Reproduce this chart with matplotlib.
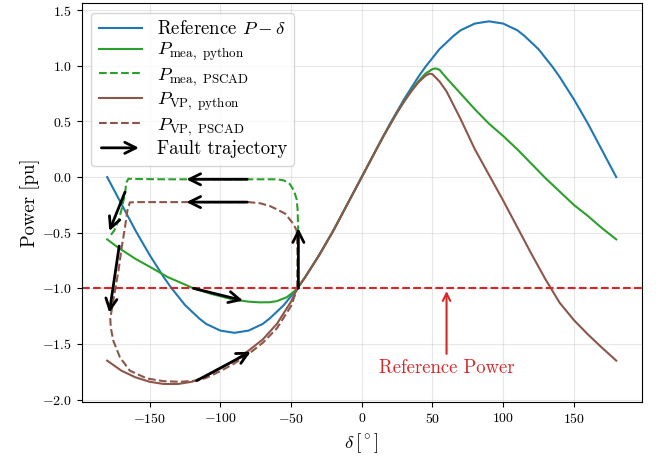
import numpy as np
import matplotlib
matplotlib.use('Agg')
import matplotlib.pyplot as plt
from matplotlib.patches import FancyArrowPatch
from matplotlib.legend_handler import HandlerPatch

plt.rcParams['font.family'] = 'serif'
plt.rcParams['font.serif'] = ['cmr10']
plt.rcParams['mathtext.fontset'] = 'cm'
plt.rcParams['axes.formatter.use_mathtext'] = True

# Reference P-delta curve (every 5 deg)
delta_ref = list(range(-180, 181, 5))
p_ref = [0.00, -0.12, -0.24, -0.36, -0.48, -0.59, -0.70, -0.80, -0.90, -0.99, -1.07, -1.15,
         -1.21, -1.27, -1.32, -1.35, -1.38, -1.39, -1.40, -1.39, -1.38, -1.35, -1.32, -1.27,
         -1.21, -1.15, -1.07, -0.99, -0.90, -0.80, -0.70, -0.59, -0.48, -0.36, -0.24, -0.12,
         0.00, 0.12, 0.24, 0.36, 0.48, 0.59, 0.70, 0.80, 0.90, 0.99, 1.07, 1.15, 1.21, 1.27,
         1.32, 1.35, 1.38, 1.39, 1.40, 1.39, 1.38, 1.35, 1.32, 1.27, 1.21, 1.15, 1.07, 0.99,
         0.90, 0.80, 0.70, 0.59, 0.48, 0.36, 0.24, 0.12, 0.00]

# measured power, python model
delta_mea = [-180, -172, -160, -148, -137, -125, -119, -105, -91, -80, -72, -65, -60, -53,
             -48, -45.5, -40, -35, -30, -25, -20, -15, -10, -5, 0, 5, 10, 15, 20, 25, 30,
             35, 40, 45, 50, 52, 55, 60, 70, 80, 90, 100, 110, 120, 130, 140, 150, 160, 170,
             180]
p_mea = [-0.56, -0.636, -0.735, -0.82, -0.90, -0.966, -1.0, -1.055, -1.10, -1.12, -1.126,
         -1.125, -1.115, -1.08, -1.03, -1.0, -0.90, -0.80, -0.70, -0.59, -0.48, -0.36,
         -0.24, -0.12, 0.0, 0.12, 0.24, 0.36, 0.47, 0.58, 0.68, 0.775, 0.86, 0.93, 0.97,
         0.977, 0.965, 0.89, 0.75, 0.61, 0.48, 0.37, 0.25, 0.12, -0.01, -0.13, -0.25, -0.35,
         -0.46, -0.56]

# virtual power, python model
delta_vp = [-180, -170, -160, -150, -140, -130, -120, -110, -100, -90, -80, -70, -60, -50,
            -45.5, -40, -35, -30, -25, -20, -15, -10, -5, 0, 5, 10, 15, 20, 25, 30, 35, 40,
            45, 48, 50, 55, 60, 70, 80, 90, 100, 110, 120, 130, 140, 150, 160, 170, 180]
p_vp = [-1.65, -1.74, -1.80, -1.84, -1.86, -1.86, -1.84, -1.79, -1.72, -1.65, -1.56, -1.46,
        -1.32, -1.12, -1.0, -0.90, -0.80, -0.70, -0.59, -0.48, -0.36, -0.24, -0.12, 0.0,
        0.12, 0.24, 0.36, 0.47, 0.58, 0.68, 0.77, 0.85, 0.91, 0.93, 0.925, 0.86, 0.77, 0.52,
        0.25, 0.02, -0.21, -0.45, -0.69, -0.92, -1.13, -1.285, -1.415, -1.535, -1.65]

# PSCAD fault trajectories
delta_mea_pscad = [-45.5, -45.2, -45.0, -45.3, -46, -48, -51, -55, -60, -80, -110, -140,
                   -160, -165, -166.5, -167.4, -170, -172, -175, -178]
p_mea_pscad = [-1.0, -0.7, -0.45, -0.3, -0.2, -0.12, -0.06, -0.03, -0.02, -0.02, -0.02,
               -0.02, -0.017, -0.015, -0.05, -0.15, -0.30, -0.39, -0.48, -0.53]

delta_vp_pscad = [-45.5, -45.3, -46, -48.4, -54, -60, -65, -72, -80, -100, -130, -160,
                  -164, -165.7, -167.4, -169.7, -172, -175.7, -177.8, -177.5, -175.7,
                  -171, -164, -152, -140, -128.5, -116.7, -110, -100, -90, -80, -70, -60,
                  -50, -45.5]
p_vp_pscad = [-1.0, -0.7, -0.48, -0.42, -0.33, -0.29, -0.26, -0.235, -0.225, -0.225,
              -0.225, -0.225, -0.228, -0.30, -0.45, -0.63, -0.84, -1.11, -1.27, -1.35,
              -1.47, -1.62, -1.74, -1.81, -1.835, -1.84, -1.83, -1.805, -1.745, -1.675,
              -1.59, -1.49, -1.36, -1.16, -1.0]

# fault trajectory arrows: (tail, head)
arrows = [((-81, -0.02), (-124, -0.02)),
          ((-81, -0.225), (-124, -0.225)),
          ((-167.4, -0.135), (-178.5, -0.485)),
          ((-171.5, -0.62), (-178.5, -1.22)),
          ((-119, -1.0), (-84, -1.11)),
          ((-116.7, -1.83), (-78.5, -1.57)),
          ((-44.8, -1.0), (-44.8, -0.46))]

p_set = -1.0


class HandlerArrow(HandlerPatch):
    def create_artists(self, legend, orig_handle, xdescent, ydescent, width, height,
                       fontsize, trans):
        y = 0.5 * height - ydescent
        p = FancyArrowPatch((-xdescent, y), (width - xdescent, y), arrowstyle='->',
                            mutation_scale=20, lw=2, color='k')
        p.set_transform(trans)
        return [p]


fig, ax = plt.subplots(figsize=(6.57, 4.58), dpi=100)
fig.subplots_adjust(left=0.1244, right=0.9767, top=0.993, bottom=0.122)

ax.plot(delta_ref, p_ref, color='tab:blue', lw=1.5, label=r'Reference $P-\delta$')
ax.plot(delta_mea, p_mea, color='tab:green', lw=1.5, label=r'$P_{\mathrm{mea,\ python}}$')
ax.plot(delta_mea_pscad, p_mea_pscad, color='tab:green', lw=1.5, ls='--',
        label=r'$P_{\mathrm{mea,\ PSCAD}}$')
ax.plot(delta_vp, p_vp, color='tab:brown', lw=1.5, label=r'$P_{\mathrm{VP,\ python}}$')
ax.plot(delta_vp_pscad, p_vp_pscad, color='tab:brown', lw=1.5, ls='--',
        label=r'$P_{\mathrm{VP,\ PSCAD}}$')
ax.axhline(p_set, color='tab:red', lw=1.5, ls='--')

for tail, head in arrows:
    ax.annotate('', xy=head, xytext=tail,
                arrowprops=dict(arrowstyle='->', lw=2, color='k', mutation_scale=20,
                                shrinkA=0, shrinkB=0))

ax.annotate('Reference Power', xy=(60, p_set), xytext=(60, -1.72), color='tab:red',
            ha='center', va='center', fontsize=13.5,
            arrowprops=dict(arrowstyle='->', color='tab:red', lw=1.5))

arrow_proxy = FancyArrowPatch((0, 0), (1, 0), arrowstyle='->', color='k')
handles, labels = ax.get_legend_handles_labels()
handles.append(arrow_proxy)
labels.append('Fault trajectory')
ax.legend(handles, labels, loc='upper left', fontsize=13.5, handlelength=2.3,
          labelspacing=0.15, handler_map={FancyArrowPatch: HandlerArrow()})

ax.grid(True, alpha=0.3)
ax.set_xlabel(r'$\delta\,[^\circ]$', fontsize=13.5)
ax.set_ylabel('Power [pu]', fontsize=13.5)
ax.yaxis.set_label_coords(-0.074, 0.5)
ax.tick_params(labelsize=10)

fig.savefig('out.png', dpi=100)
